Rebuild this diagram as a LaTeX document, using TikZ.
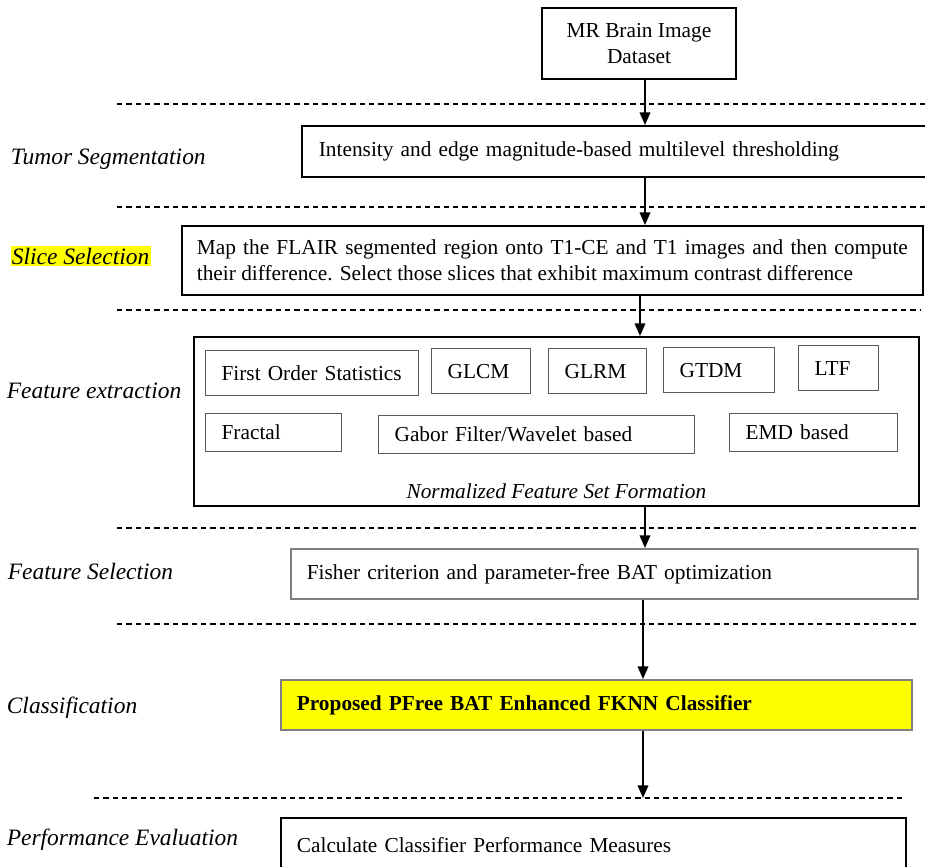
\documentclass[tikz,border=0pt]{standalone}
\usepackage{fontspec}
\setmainfont{Liberation Serif}
\usetikzlibrary{arrows.meta}

\definecolor{hiyellow}{RGB}{255,255,0}
\definecolor{edgegray}{RGB}{128,128,128}

\tikzset{every picture/.style={line width=0.75pt}}
\tikzset{
  stagebox/.style={draw=black, line width=1.3pt, rectangle, inner ysep=0pt, font=\fontsize{16}{19.5}\selectfont},
  featbox/.style={draw=edgegray!70!black, line width=0.9pt, rectangle, anchor=north west, align=left, inner xsep=12pt, inner ysep=0pt, font=\fontsize{16}{19.5}\selectfont},
  stagelabel/.style={anchor=west, inner sep=1pt, font=\fontsize{17.6}{21}\selectfont\itshape},
  sepline/.style={dashed, dash pattern={on 4pt off 3pt}, line width=1pt},
  flow/.style={line width=1.2pt, -{Triangle[length=9.5pt,width=8pt]}}
}

\begin{document}
\begin{tikzpicture}[x=0.75pt,y=0.75pt,yscale=-1,xscale=1]
\useasboundingbox (0,0) rectangle (925,867);

%Dashed separators
\draw [sepline] (117,104) -- (925,104) ;
\draw [sepline] (117,207) -- (925,207) ;
\draw [sepline] (117,310) -- (921,310) ;
\draw [sepline] (117,528) -- (918,528) ;
\draw [sepline] (117,624) -- (918,624) ;
\draw [sepline] (94,798) -- (905,798) ;

%Stage boxes
\node (mr) [stagebox, align=center, minimum width=145.5pt, minimum height=53.25pt] at (639,43.5) {MR Brain Image\\Dataset};
\node (seg) [stagebox, anchor=north west, align=left, text width=446.25pt, inner xsep=12.75pt, minimum height=38.25pt] at (301,125) {Intensity and edge magnitude-based multilevel thresholding};
\node (slice) [stagebox, anchor=north west, align=justify, text width=533.25pt, inner xsep=11.25pt, minimum height=51.75pt] at (181,225) {Map the FLAIR segmented region onto T1-CE and T1 images and then compute their difference. Select those slices that exhibit maximum contrast difference};
\node (feat) [stagebox, anchor=north west, minimum width=543.75pt, minimum height=126.75pt] at (193,336) {};
\node (fsel) [stagebox, draw=edgegray, anchor=north west, align=left, text width=446.25pt, inner xsep=12pt, minimum height=37.5pt] at (290,548) {Fisher criterion and parameter-free BAT optimization};
\node (cls) [stagebox, draw=edgegray, fill=hiyellow, anchor=north west, align=left, text width=449.25pt, inner xsep=12pt, minimum height=37.5pt, font=\fontsize{16}{19.5}\selectfont\bfseries] at (280,679) {Proposed PFree BAT Enhanced FKNN Classifier};
\node (perf) [stagebox, anchor=north west, align=left, text width=444.75pt, inner xsep=12pt, minimum height=41.25pt] at (280,817) {Calculate Classifier Performance Measures};

%Feature groups
\node (fos) [featbox, text width=135.75pt, minimum height=33.75pt] at (205,350) {First Order Statistics};
\node (glcm) [featbox, text width=50.25pt, minimum height=33.75pt] at (431,348) {GLCM};
\node (glrm) [featbox, text width=49.5pt, minimum height=33.75pt] at (548,348) {GLRM};
\node (gtdm) [featbox, text width=59.25pt, minimum height=33.75pt] at (663,347) {GTDM};
\node (ltf) [featbox, text width=36pt, minimum height=33.75pt] at (798,345) {LTF};
\node (fractal) [featbox, text width=78pt, minimum height=28.5pt] at (205,413) {Fractal};
\node (gabor) [featbox, text width=213pt, minimum height=28.5pt] at (378,415) {Gabor Filter/Wavelet based};
\node (emd) [featbox, text width=102pt, minimum height=28.5pt] at (729,413) {EMD based};

% Text Node
\node (nfs) [anchor=base, inner sep=0pt, font=\fontsize{16}{19.5}\selectfont\itshape] at ([yshift=-6pt]feat.south) {Normalized Feature Set Formation};

%Stage labels
\node (lseg) [stagelabel] at (9,159) {Tumor Segmentation};
\node (lslice) [stagelabel, fill=hiyellow] at (10,256) {Slice Selection};
\node (lfeat) [stagelabel] at (5,391) {Feature extraction};
\node (lfsel) [stagelabel] at (6,571) {Feature Selection};
\node (lcls) [stagelabel] at (5,708) {Classification};
\node (lperf) [stagelabel] at (5,840) {Performance Evaluation};

%Arrows
\coordinate (c1) at (645,0);
\coordinate (c2) at (640,0);
\coordinate (c3) at (643,0);
\coordinate (evalend) at (643,798);
\draw [flow] (mr.south -| c1) -- (seg.north -| c1) ;
\draw [flow] (seg.south -| c1) -- (slice.north -| c1) ;
\draw [flow] (slice.south -| c2) -- (feat.north -| c2) ;
\draw [flow] (feat.south -| c1) -- (fsel.north -| c1) ;
\draw [flow] (fsel.south -| c3) -- (cls.north -| c3) ;
\draw [flow] (cls.south -| c3) -- (evalend) ;

\end{tikzpicture}
\end{document}
